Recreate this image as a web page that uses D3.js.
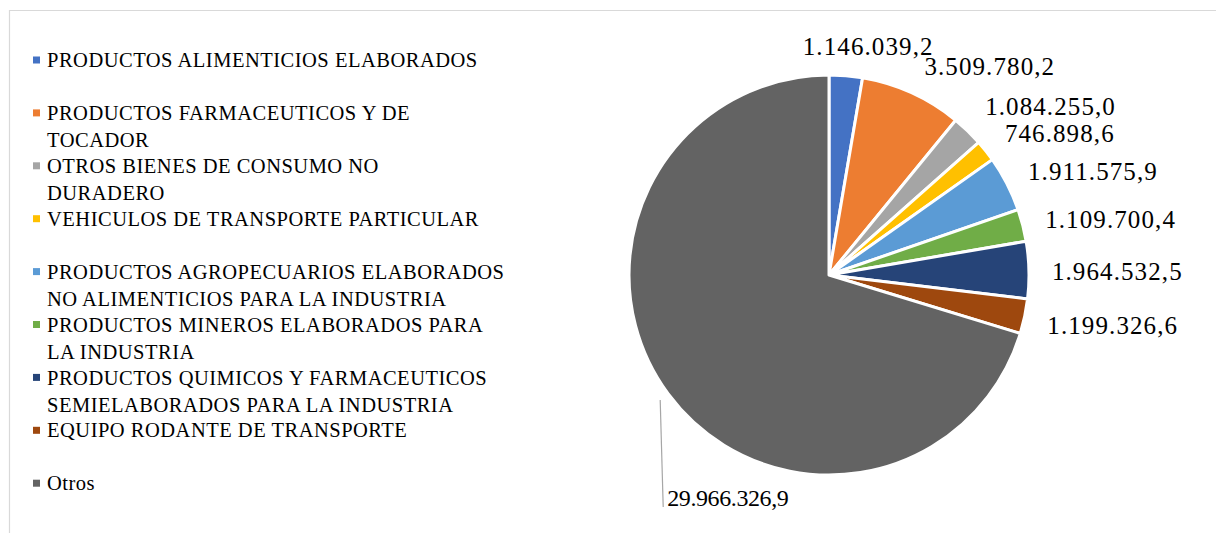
<!DOCTYPE html>
<html>
<head>
<meta charset="utf-8">
<script src="https://cdn.jsdelivr.net/npm/d3@7"></script>
<style>
  body { margin: 0; background: #fff; }
  svg { display: block; }
  text { font-family: "Liberation Serif", "Times New Roman", serif; fill: #000; }
</style>
</head>
<body>
<svg id="chart" width="1216" height="533"></svg>
<script>
// data
var categories = [
    "PRODUCTOS ALIMENTICIOS ELABORADOS",
    "PRODUCTOS FARMACEUTICOS Y DE\nTOCADOR",
    "OTROS BIENES DE CONSUMO NO\nDURADERO",
    "VEHICULOS DE TRANSPORTE PARTICULAR",
    "PRODUCTOS AGROPECUARIOS ELABORADOS\nNO ALIMENTICIOS PARA LA INDUSTRIA",
    "PRODUCTOS MINEROS ELABORADOS PARA\nLA INDUSTRIA",
    "PRODUCTOS QUIMICOS Y FARMACEUTICOS\nSEMIELABORADOS PARA LA INDUSTRIA",
    "EQUIPO RODANTE DE TRANSPORTE",
    "Otros"
];
var values = [1146039.2, 3509780.2, 1084255.0, 746898.6, 1911575.9, 1109700.4, 1964532.5, 1199326.6, 29966326.9];
var colors = ["#4472C4", "#ED7D31", "#A5A5A5", "#FFC000", "#5B9BD5", "#70AD47", "#264478", "#9E480E", "#636363"];

var data = categories.map(function(c, i) { return { name: c, value: values[i], color: colors[i] }; });

var svg = d3.select("#chart");
var width = +svg.attr("width"), height = +svg.attr("height");

// chart frame (cropped on right and bottom)
svg.append("path")
    .attr("d", "M9.5," + height + "V10.5H" + width)
    .attr("fill", "none")
    .attr("stroke", "#d9d9d9")
    .attr("stroke-width", 1.2);

// spanish number format
var es = d3.formatLocale({ decimal: ",", thousands: ".", grouping: [3], currency: ["", ""] });
var fmt = es.format(",.1f");

// pie
var cx = 829, cy = 275, radius = 200;
var g = svg.append("g").attr("transform", "translate(" + cx + "," + cy + ")");

var pie = d3.pie().sort(null).value(function(d) { return d.value; });
var arc = d3.arc().innerRadius(0).outerRadius(radius);
var arcs = pie(data);

g.selectAll("path.slice")
    .data(arcs)
    .enter().append("path")
        .attr("class", "slice")
        .attr("d", arc)
        .attr("fill", function(d) { return d.data.color; })
        .attr("stroke", "#fff")
        .attr("stroke-width", 3)
        .attr("stroke-linejoin", "round");

// data labels, outside end
var labelSize = 25;
var labels = g.selectAll("text.lbl")
    .data(arcs.slice(0, arcs.length - 1))
    .enter().append("text")
        .attr("class", "lbl")
        .attr("font-size", labelSize)
        .attr("letter-spacing", 1.1)
        .attr("text-anchor", "middle")
        .attr("dy", "0.35em")
        .text(function(d) { return fmt(d.data.value); });

var boxes = [];
labels.each(function(d) {
    var a = (d.startAngle + d.endAngle) / 2;
    var r = radius + 18;
    var px = r * Math.sin(a), py = -r * Math.cos(a);
    var w = this.getComputedTextLength();
    var f = Math.max(-1, Math.min(1, 3.5 * Math.sin(a)));
    boxes.push({ el: this, x: px + f * (w / 2 + 5), y: py - 14 * Math.cos(a) + 2, w: w });
});
// push labels up when they collide with the one below
for (var i = boxes.length - 2; i >= 0; i--) {
    var b = boxes[i], n = boxes[i + 1];
    var xOverlap = Math.min(b.x + b.w / 2, n.x + n.w / 2) - Math.max(b.x - b.w / 2, n.x - n.w / 2);
    if (xOverlap > 10 && n.y - b.y < 27) b.y = n.y - 27;
}
boxes.forEach(function(b) {
    d3.select(b.el).attr("x", b.x).attr("y", b.y);
});

// "Otros" label pulled down with a leader line
var last = arcs[arcs.length - 1];
var aL = (last.startAngle + last.endAngle) / 2;
var x0 = (radius + 10) * Math.sin(aL), y0 = -(radius + 10) * Math.cos(aL);
var x1 = x0 + 3, y1 = y0 + 107;
g.append("line")
    .attr("x1", x0).attr("y1", y0)
    .attr("x2", x1).attr("y2", y1)
    .attr("stroke", "#a6a6a6")
    .attr("stroke-width", 1.2);
g.append("text")
    .attr("font-size", 24)
    .attr("letter-spacing", -0.4)
    .attr("x", x1 + 4)
    .attr("y", y1 - 1)
    .text(fmt(last.data.value));

// legend
var legendX = 33, legendTop = 60, legendStep = 52.9, lineStep = 27;
var legend = svg.append("g").attr("class", "legend");
var items = legend.selectAll("g.item")
    .data(data)
    .enter().append("g")
        .attr("class", "item")
        .attr("transform", function(d, i) { return "translate(" + legendX + "," + (legendTop + i * legendStep) + ")"; });

items.append("rect")
    .attr("x", 0).attr("y", -3.5)
    .attr("width", 7).attr("height", 7)
    .attr("fill", function(d) { return d.color; });

items.append("text")
    .attr("font-size", 20.5)
    .attr("letter-spacing", 0.5)
    .each(function(d) {
        var t = d3.select(this);
        d.name.split("\n").forEach(function(line, k) {
            t.append("tspan")
                .attr("x", 14)
                .attr("y", k * lineStep)
                .attr("dy", "0.35em")
                .text(line);
        });
    });
</script>
</body>
</html>
